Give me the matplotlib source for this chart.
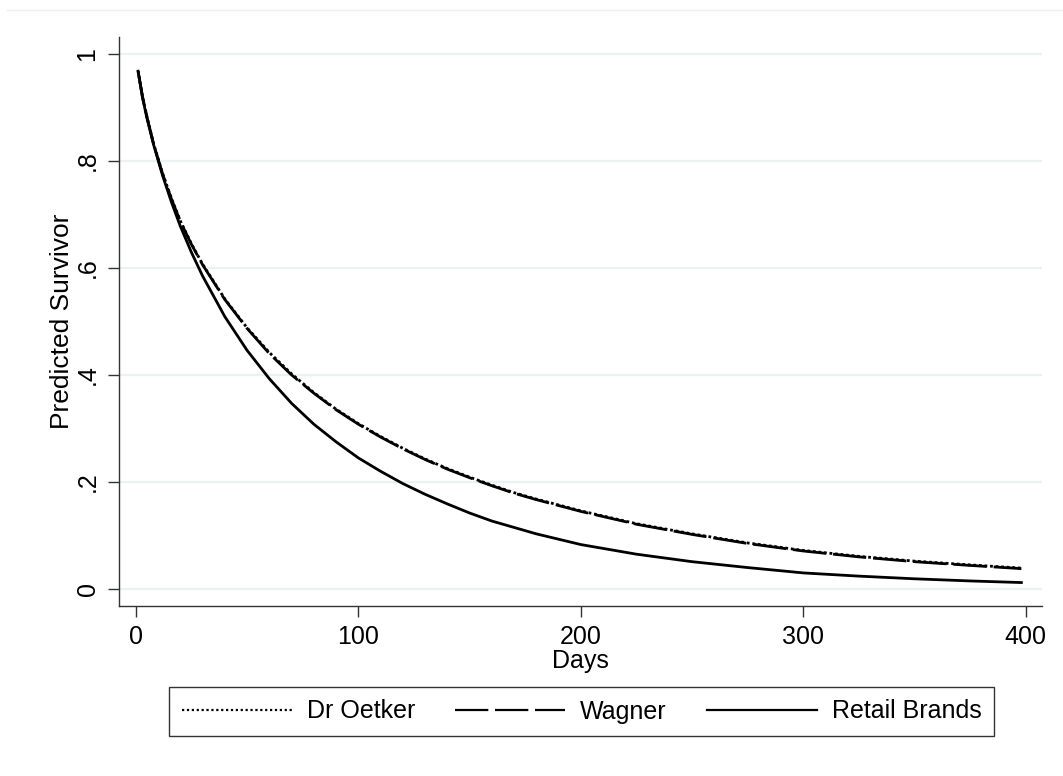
import matplotlib
matplotlib.use("Agg")
import matplotlib.pyplot as plt
from matplotlib.lines import Line2D

plt.rcParams['font.family'] = ['Liberation Sans', 'DejaVu Sans']

# predicted survivor values
days = [1, 3, 5, 8, 12, 16, 20, 25, 30, 40, 50, 60, 70, 80, 90, 100, 110,
        120, 130, 140, 150, 160, 170, 180, 190, 200, 225, 250, 275, 300, 325, 350, 375, 398]
dr_oetker = [0.968, 0.920, 0.882, 0.832, 0.777, 0.730, 0.688, 0.645, 0.607, 0.542,
             0.488, 0.442, 0.402, 0.367, 0.336, 0.309, 0.285,
             0.263, 0.243, 0.225, 0.209, 0.194, 0.180, 0.168, 0.157,
             0.146, 0.122, 0.103, 0.086, 0.072, 0.061, 0.052, 0.045, 0.039]
wagner = [0.968, 0.920, 0.882, 0.831, 0.776, 0.729, 0.687, 0.644, 0.606, 0.541,
          0.487, 0.440, 0.400, 0.366, 0.335, 0.308, 0.284,
          0.262, 0.242, 0.224, 0.208, 0.193, 0.179, 0.167, 0.156,
          0.145, 0.121, 0.102, 0.085, 0.071, 0.060, 0.051, 0.044, 0.038]
retail = [0.968, 0.918, 0.880, 0.830, 0.773, 0.723, 0.678, 0.629, 0.585, 0.509,
          0.446, 0.393, 0.347, 0.308, 0.275, 0.245, 0.220,
          0.197, 0.177, 0.159, 0.142, 0.127, 0.115, 0.103, 0.093,
          0.083, 0.065, 0.051, 0.040, 0.030, 0.024, 0.019, 0.015, 0.012]

labels = ["Dr Oetker", "Wagner", "Retail Brands"]
xticks = [0, 100, 200, 300, 400]
yticks = [0, 0.2, 0.4, 0.6, 0.8, 1.0]
ytick_labels = ["0", ".2", ".4", ".6", ".8", "1"]

fs = 18
lw = 2.0
axis_col = "#333333"

fig = plt.figure(figsize=(10.63, 7.76), dpi=100)
ax = fig.add_axes([0.1119, 0.2191, 0.9803 - 0.1119, 0.9523 - 0.2191])

# thin outer frame line at the top of the graph region
fig.add_artist(Line2D([7 / 1063, 1.0], [1 - 10 / 776, 1 - 10 / 776],
                      color="#eeeeee", lw=1.0, transform=fig.transFigure))

for y in yticks:
    ax.axhline(y, color="#eaf2f3", lw=1.6, zorder=0)

ax.plot(days, retail, color="black", lw=lw, ls="-", zorder=3)
ax.plot(days, wagner, color="black", lw=lw, ls=(0, (12, 2.5)), zorder=3)
ax.plot(days, dr_oetker, color="black", lw=lw, ls=(0, (1, 1)), zorder=4)

ax.set_xlim(-7.6, 407.3)
ax.set_ylim(-0.0318, 1.0318)
ax.set_xticks(xticks)
ax.set_xticklabels([str(x) for x in xticks], fontsize=fs)
ax.set_yticks(yticks)
ax.set_yticklabels(ytick_labels, fontsize=fs, rotation=90, va="center")
ax.tick_params(axis="both", length=8, width=1.0, color=axis_col, pad=6)

for side in ["top", "right"]:
    ax.spines[side].set_visible(False)
for side in ["left", "bottom"]:
    ax.spines[side].set_color(axis_col)
    ax.spines[side].set_linewidth(1.0)

ax.set_xlabel("Days", fontsize=fs, labelpad=0)
ax.set_ylabel("Predicted Survivor", fontsize=fs + 1, labelpad=1)

handles = [
    Line2D([], [], color="black", lw=1.6, ls=(0, (1, 1.2))),
    Line2D([], [], color="black", lw=1.6, ls=(0, (15, 3))),
    Line2D([], [], color="black", lw=1.6, ls="-"),
]
leg = fig.legend(handles, labels, loc="center", ncol=3, fontsize=fs,
                 bbox_to_anchor=((170 + 993) / 2 / 1063, 1 - 711.5 / 776),
                 handlelength=4.4, handletextpad=0.6, columnspacing=1.6,
                 borderpad=0.5, fancybox=False, frameon=True)
leg.get_frame().set_edgecolor("black")
leg.get_frame().set_linewidth(1.0)

fig.savefig("out.png", dpi=100, facecolor="white")
